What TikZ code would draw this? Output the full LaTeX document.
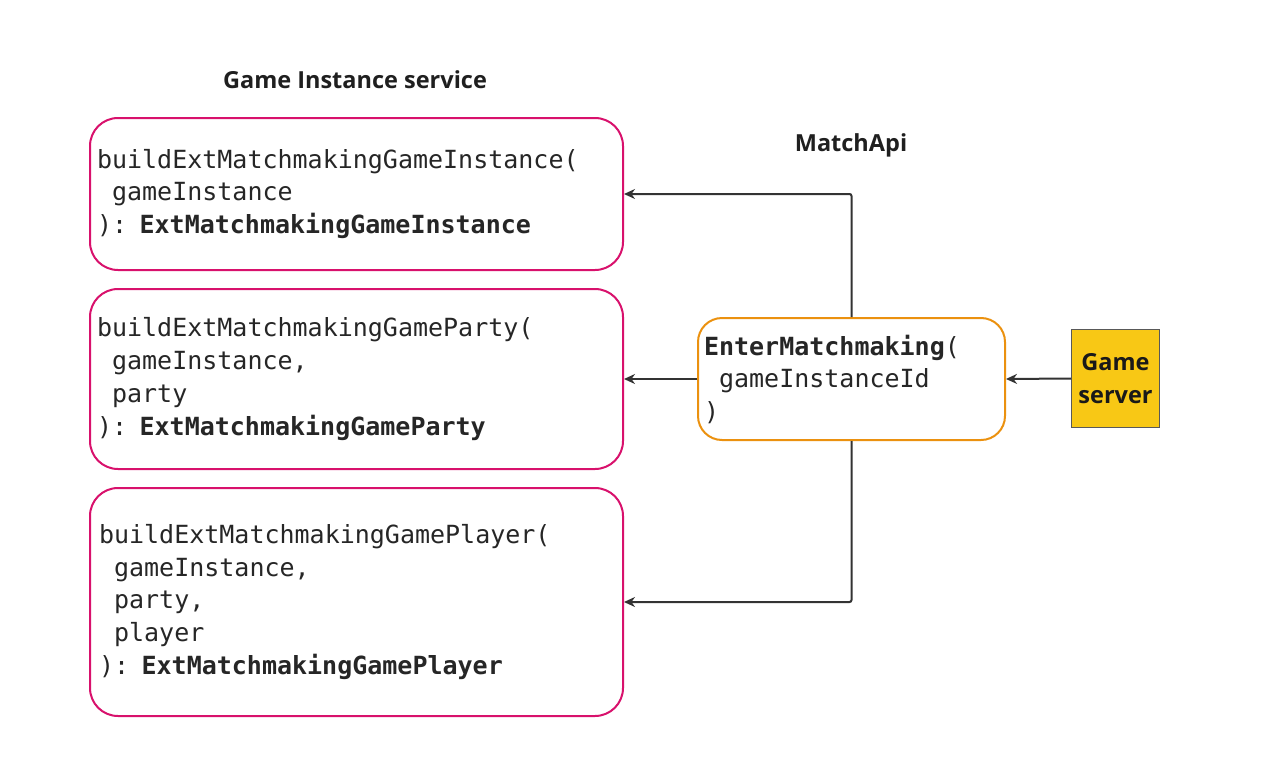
\documentclass[tikz,border=0pt]{standalone}
\usepackage{fontspec}
\setmainfont{Open Sans}
\setmonofont{DejaVu Sans Mono}
\usetikzlibrary{arrows.meta}
\definecolor{pinkline}{HTML}{D8116C}
\definecolor{orangeline}{HTML}{EB910F}
\definecolor{goldfill}{HTML}{F8C815}
\definecolor{arrowgray}{HTML}{333333}
\newcommand{\ind}{\phantom{x}}
\tikzset{
  fnbox/.style={draw=pinkline, line width=2pt, rounded corners=28pt, inner xsep=7pt, inner ysep=0pt,
    align=left, font=\ttfamily\fontsize{25}{32.7}\selectfont, text=black!85, anchor=north west},
  apibox/.style={draw=orangeline, line width=2pt, rounded corners=24pt, inner xsep=6pt, inner ysep=0pt,
    align=left, font=\ttfamily\fontsize{25}{32.5}\selectfont, text=black!85, anchor=north west},
  srvbox/.style={draw=black!65, line width=1pt, fill=goldfill, align=center, inner sep=0pt,
    font=\bfseries\fontsize{23.5}{33}\selectfont, text=black!90, anchor=north west},
  title/.style={font=\bfseries\fontsize{23.5}{28}\selectfont, text=black!88},
  conn/.style={draw=arrowgray, line width=2pt, -{Stealth[length=11pt,width=10pt]}},
  elbowconn/.style={conn, rounded corners=2pt}
}
\begin{document}
\begin{tikzpicture}[x=1pt,y=-1pt]
\useasboundingbox (0,0) rectangle (1282,779);
\node[title] (t1) at (355,80) {Game Instance service};
\node[title] (t2) at (851,145) {MatchApi};
\node[fnbox, minimum width=533pt, minimum height=152pt, text width=519pt] (b1) at (89,117)
  {buildExtMatchmakingGameInstance(\\\ind gameInstance\\): \textbf{ExtMatchmakingGameInstance}};
\node[fnbox, minimum width=533pt, minimum height=180pt, text width=519pt] (b2) at (89,288)
  {buildExtMatchmakingGameParty(\\\ind gameInstance,\\\ind party\\): \textbf{ExtMatchmakingGameParty}};
\node[fnbox, minimum width=533pt, minimum height=228pt, text width=515pt, inner xsep=9pt] (b3) at (89,487)
  {buildExtMatchmakingGamePlayer(\\\ind gameInstance,\\\ind party,\\\ind player\\): \textbf{ExtMatchmakingGamePlayer}};
\node[apibox, minimum width=307pt, minimum height=122pt, text width=295pt] (api) at (697,317)
  {\textbf{EnterMatchmaking}(\\\ind gameInstanceId\\)};
\node[srvbox, minimum width=88pt, minimum height=98pt] (gs) at (1071,329) {Game\\server};
\draw[conn] (gs.west) -- (api.east);
\draw[conn] (api.west) -- (b2.east);
\draw[elbowconn] (api.north) |- (b1.east);
\draw[elbowconn] (api.south) |- (b3.east);
\end{tikzpicture}
\end{document}
